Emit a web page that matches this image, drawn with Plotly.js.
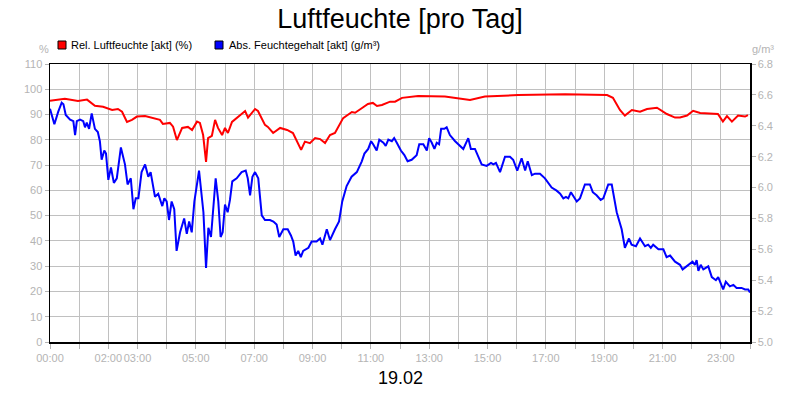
<!DOCTYPE html>
<html>
<head>
<meta charset="utf-8">
<script src="https://cdn.plot.ly/plotly-3.0.1.min.js"></script>
<style>
  body { margin: 0; background: #fff; }
  #chart { width: 800px; height: 400px; outline: 1px solid #000; outline-offset: -1px; }
</style>
</head>
<body>
<div id="chart"></div>
<script>
CHART = document.getElementById('chart');

const GRID = '#c0c0c0';
const TICKGREY = '#b4b4b4';
const FONT = 'Liberation Sans, Arial, sans-serif';

// relative humidity (%), time in hours of the day
const relHours = [0.00, 0.51, 0.96, 1.27, 1.54, 1.82, 2.13, 2.33, 2.47, 2.64, 2.81, 2.98, 3.26, 3.50, 3.77, 3.87,
  4.11, 4.22, 4.35, 4.53, 4.73, 4.87, 5.04, 5.14, 5.25, 5.35, 5.42, 5.55, 5.66, 5.76, 5.90, 6.00, 6.10, 6.24,
  6.45, 6.69, 6.79, 7.03, 7.13, 7.37, 7.47, 7.65, 7.89, 8.13, 8.33, 8.47, 8.61, 8.74, 8.91, 9.09, 9.26, 9.43,
  9.60, 9.77, 10.05, 10.35, 10.46, 10.70, 10.90, 11.07, 11.21, 11.38, 11.66, 11.83, 12.07, 12.62, 13.54, 14.40,
  14.91, 16.05, 17.66, 19.10, 19.30, 19.54, 19.71, 19.95, 20.23, 20.47, 20.81, 21.15, 21.43, 21.60, 21.84,
  22.05, 22.29, 22.90, 23.07, 23.21, 23.38, 23.59, 23.83, 23.93];
const relHum = [95.5, 96.2, 95.4, 95.9, 93.5, 93.1, 91.8, 92.2, 91.1, 87.1, 87.9, 89.2, 89.4, 88.6, 87.9, 86.3,
  86.7, 85.2, 79.9, 84.7, 85.1, 83.9, 87.2, 86.7, 81.9, 71.3, 80.7, 81.6, 87.9, 84.7, 81.9, 84.7, 82.7, 87.1,
  89.0, 91.4, 88.8, 92.2, 91.4, 85.9, 85.1, 82.7, 84.7, 83.9, 82.7, 79.3, 76.0, 79.3, 78.7, 80.7, 80.3, 78.7,
  81.9, 82.7, 88.6, 91.0, 90.7, 92.6, 94.2, 94.6, 93.4, 93.8, 95.1, 95.1, 96.6, 97.3, 97.1, 95.8,
  97.1, 97.7, 98.0, 97.7, 96.6, 91.8, 89.6, 91.8, 91.1, 92.2, 92.7, 90.2, 88.8, 88.8, 89.6,
  91.5, 90.6, 90.2, 87.2, 89.4, 87.2, 89.6, 89.2, 89.8];

// absolute humidity (g/m3)
const absHours = [0.00, 0.15, 0.28, 0.40, 0.46, 0.54, 0.69, 0.80, 0.86, 0.92, 1.03, 1.14, 1.20, 1.26, 1.34, 1.43,
  1.54, 1.64, 1.71, 1.77, 1.86, 1.92, 2.00, 2.09, 2.19, 2.29, 2.43, 2.57, 2.66, 2.77, 2.86, 2.94, 3.03, 3.14,
  3.26, 3.37, 3.45, 3.60, 3.71, 3.85, 3.92, 4.00, 4.08, 4.17, 4.26, 4.34, 4.46, 4.60, 4.69, 4.77, 4.86, 4.95,
  5.11, 5.26, 5.35, 5.43, 5.52, 5.68, 5.77, 5.85, 5.92, 6.00, 6.09, 6.17, 6.25, 6.40, 6.57, 6.71, 6.78, 6.86,
  6.94, 7.03, 7.14, 7.26, 7.37, 7.54, 7.66, 7.77, 7.86, 8.00, 8.15, 8.26, 8.34, 8.42, 8.51, 8.60, 8.68, 8.86,
  8.97, 9.14, 9.26, 9.34, 9.49, 9.60, 9.77, 9.91, 10.02, 10.17, 10.34, 10.52, 10.69, 10.78, 10.91, 11.01,
  11.08, 11.20, 11.29, 11.43, 11.51, 11.60, 11.72, 11.80, 11.89, 12.03, 12.15, 12.26, 12.40, 12.57, 12.66,
  12.80, 12.92, 13.00, 13.09, 13.18, 13.26, 13.34, 13.41, 13.52, 13.60, 13.71, 13.89, 14.17, 14.34, 14.43,
  14.57, 14.80, 14.97, 15.12, 15.20, 15.29, 15.43, 15.60, 15.77, 15.88, 16.02, 16.17, 16.29, 16.38, 16.52,
  16.63, 16.80, 16.97, 17.20, 17.37, 17.49, 17.60, 17.69, 17.77, 17.86, 18.06, 18.17, 18.34, 18.51, 18.61,
  18.74, 18.88, 18.97, 19.14, 19.26, 19.43, 19.60, 19.71, 19.85, 19.94, 20.09, 20.23, 20.40, 20.51, 20.60,
  20.68, 20.86, 21.03, 21.14, 21.26, 21.43, 21.60, 21.69, 21.88, 22.03, 22.11, 22.17, 22.23, 22.31, 22.40,
  22.57, 22.69, 22.83, 22.91, 23.00, 23.08, 23.17, 23.31, 23.43, 23.54, 23.71, 23.83, 23.94, 24.00];
const absHum = [6.51, 6.41, 6.49, 6.55, 6.54, 6.47, 6.44, 6.43, 6.34, 6.43, 6.44, 6.43, 6.39, 6.42, 6.38, 6.48,
  6.38, 6.36, 6.30, 6.18, 6.24, 6.22, 6.05, 6.13, 6.03, 6.06, 6.26, 6.15, 6.02, 6.06, 5.86, 5.93, 5.93, 6.10,
  6.15, 6.07, 6.10, 5.94, 5.96, 5.88, 5.93, 5.91, 5.79, 5.91, 5.86, 5.59, 5.71, 5.80, 5.70, 5.78, 5.71, 5.91,
  6.11, 5.84, 5.48, 5.74, 5.68, 6.06, 5.91, 5.68, 5.71, 5.89, 5.84, 5.92, 6.04, 6.06, 6.10, 6.11, 6.06, 5.95,
  6.07, 6.10, 6.06, 5.82, 5.79, 5.79, 5.78, 5.76, 5.68, 5.73, 5.73, 5.69, 5.65, 5.56, 5.59, 5.55, 5.59, 5.61,
  5.65, 5.65, 5.67, 5.63, 5.73, 5.66, 5.73, 5.78, 5.91, 6.01, 6.07, 6.10, 6.17, 6.22, 6.25, 6.30,
  6.28, 6.24, 6.31, 6.29, 6.27, 6.31, 6.30, 6.32, 6.29, 6.24, 6.21, 6.17, 6.18, 6.21, 6.28,
  6.28, 6.24, 6.32, 6.29, 6.25, 6.29, 6.28, 6.38, 6.38, 6.39, 6.34, 6.30, 6.25, 6.32, 6.25,
  6.25, 6.15, 6.14, 6.16, 6.15, 6.16, 6.10, 6.20, 6.20, 6.18, 6.11, 6.19, 6.11, 6.17, 6.08,
  6.09, 6.09, 6.06, 6.00, 5.98, 5.96, 5.93, 5.94, 5.93, 5.97, 5.91, 5.93, 6.02, 6.02, 5.97,
  5.95, 5.92, 5.93, 6.02, 6.02, 5.84, 5.73, 5.61, 5.67, 5.63, 5.62, 5.67, 5.62, 5.63, 5.61,
  5.63, 5.60, 5.60, 5.55, 5.56, 5.52, 5.50, 5.47, 5.50, 5.52, 5.50, 5.53, 5.46, 5.50, 5.47,
  5.49, 5.42, 5.40, 5.42, 5.37, 5.34, 5.39, 5.36, 5.37, 5.35, 5.35, 5.34, 5.34, 5.32];

// x axis: a tick every hour, only some of them labelled
const hourTicks = [0, 1, 2, 3, 4, 5, 6, 7, 8, 9, 10, 11, 12, 13, 14, 15, 16, 17, 18, 19, 20, 21, 22, 23, 24];
const hourLabels = ['00:00', '', '02:00', '03:00', '', '05:00', '', '07:00', '', '09:00', '', '11:00', '',
  '13:00', '', '15:00', '', '17:00', '', '19:00', '', '21:00', '', '23:00', ''];

const relName = 'Rel. Luftfeuchte [akt] (%)';
const absName = 'Abs. Feuchtegehalt [akt] (g/m³)';
const dayLabel = '19.02';

// plot area in pixels: x 50..750, y 64..342
function px(x) { return (x - 50) / 700; }
function py(y) { return (342 - y) / 278; }

function legendBox(x0, color) {
    return {
        type: 'rect', xref: 'paper', yref: 'paper',
        x0: px(x0), x1: px(x0 + 8), y0: py(49), y1: py(41),
        fillcolor: color, line: {color: '#000', width: 1}
    };
}

function note(text, x, y, color, size, anchor) {
    return {
        text: text, xref: 'paper', yref: 'paper', x: px(x), y: py(y),
        xanchor: anchor || 'center', yanchor: 'middle', showarrow: false,
        font: {family: FONT, size: size, color: color}
    };
}

function plot() {
    const traces = [{
        x: relHours, y: relHum, name: relName, type: 'scatter', mode: 'lines',
        line: {color: '#ff0000', width: 2}
    }, {
        x: absHours, y: absHum, name: absName, type: 'scatter', mode: 'lines', yaxis: 'y2',
        line: {color: '#0000ff', width: 2}
    }];

    const layout = {
        width: 800, height: 400,
        margin: {l: 50, r: 50, t: 64, b: 58},
        paper_bgcolor: '#ffffff', plot_bgcolor: '#ffffff',
        showlegend: false,
        font: {family: FONT, color: TICKGREY, size: 11},
        title: {
            text: 'Luftfeuchte [pro Tag]', x: 0.5, xanchor: 'center',
            y: 1 - 19 / 400, yanchor: 'middle', font: {family: FONT, size: 27, color: '#000'}
        },
        xaxis: {
            range: [0, 24], tickmode: 'array', tickvals: hourTicks, ticktext: hourLabels,
            tickangle: 0,
            showgrid: true, gridcolor: GRID, gridwidth: 1, zeroline: false,
            showline: true, linecolor: '#000', linewidth: 1.5, mirror: true,
            ticks: 'outside', ticklen: 5, tickcolor: TICKGREY,
            tickfont: {family: FONT, size: 11, color: TICKGREY}
        },
        yaxis: {
            range: [0, 110], dtick: 10, tick0: 0,
            showgrid: true, gridcolor: GRID, gridwidth: 1, zeroline: false,
            showline: true, linecolor: '#000', linewidth: 1.5, mirror: true,
            ticks: 'outside', ticklen: 4, tickcolor: TICKGREY,
            tickfont: {family: FONT, size: 11, color: TICKGREY}
        },
        yaxis2: {
            range: [5.0, 6.8], dtick: 0.2, tick0: 5.0, tickformat: '.1f',
            overlaying: 'y', side: 'right', showgrid: false, zeroline: false,
            showline: true, linecolor: '#000', linewidth: 1.5,
            ticks: 'outside', ticklen: 4, tickcolor: TICKGREY,
            tickfont: {family: FONT, size: 11, color: TICKGREY}
        },
        shapes: [legendBox(58, '#ff0000'), legendBox(215, '#0000ff')],
        annotations: [
            note(relName, 69, 45, '#000', 11, 'left'),
            note(absName, 227, 45, '#000', 11, 'left'),
            note('%', 43.5, 49, TICKGREY, 11),
            note('g/m³', 763, 49, TICKGREY, 11),
            note(dayLabel, 400, 378, '#000', 18)
        ]
    };

    Plotly.newPlot(CHART, traces, layout, {staticPlot: true});
}

plot();
</script>
</body>
</html>
